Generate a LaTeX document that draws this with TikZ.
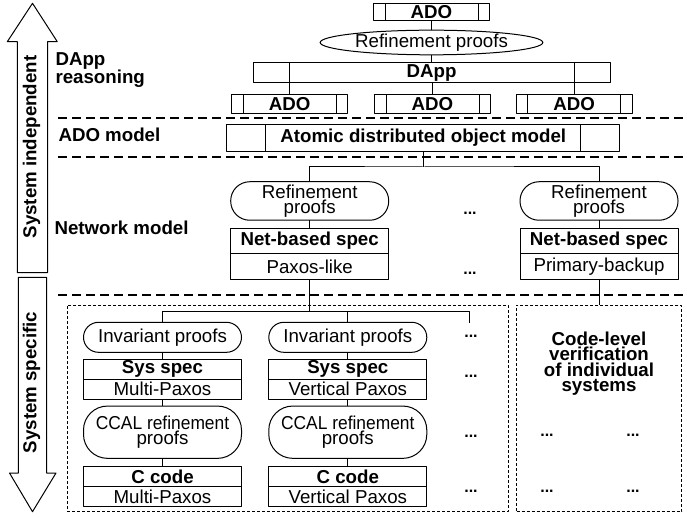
\documentclass[tikz,border=0pt]{standalone}
\usepackage{fontspec}
\setmainfont{Liberation Sans}
\newfontfamily\condfont[FakeStretch=0.93]{Liberation Sans}
\newcommand\figfont{\fontsize{18.7}{15.5}\selectfont}
\usetikzlibrary{shapes.geometric}
\begin{document}
\begin{tikzpicture}[x=1pt,y=-1pt,line join=round,line width=1pt,font=\figfont,
  box/.style={draw,inner sep=0pt,outer sep=0pt},
  bold/.style={font=\figfont\bfseries},
  procbox/.style={box,bold,path picture={\draw ([xshift=#1]path picture bounding box.north west)--([xshift=#1]path picture bounding box.south west) ([xshift=-#1]path picture bounding box.north east)--([xshift=-#1]path picture bounding box.south east);}},
  adobox/.style={procbox=11.5pt,minimum width=116pt,minimum height=19pt},
  proofbox/.style={box,rounded corners=#1,align=center,minimum width=158pt},
  spechead/.style={box,bold,minimum width=158pt},
  speclow/.style={box,minimum width=158pt},
  layerlabel/.style={bold,anchor=west,align=left,inner sep=0pt},
  layersep/.style={dash pattern=on 9pt off 5pt,line width=2pt},
  sysframe/.style={box,dash pattern=on 3pt off 2pt,line width=.8pt},
  moredots/.style={font=\fontsize{16}{16}\selectfont\bfseries,inner sep=0pt},
  bigarrow/.style={draw,line width=1pt}]
\useasboundingbox (0,0) rectangle (687,518);
% left arrows
\draw[bigarrow] (32.5,3.3)--(57.3,41.7)--(47.5,41.7)--(47.5,272.7)--(17.3,272.7)--(17.3,41.7)--(7.3,41.7)--cycle;
\draw[bigarrow] (18.3,277.3)--(46.7,277.3)--(46.7,473)--(56,473)--(32.5,511.7)--(9.5,473)--(18.3,473)--cycle;
\node[bold,rotate=90] (indep) at (31.5,147) {System independent};
\node[bold,rotate=90] (specific) at (31.5,382.5) {System specific};
% layer names and separators
\node[layerlabel] (dappl) at (55,70) {DApp\\reasoning};
\node[layerlabel] (adol) at (58,135) {ADO model};
\node[layerlabel] (netl) at (54,228) {Network model};
\draw[layersep] (58,118)--(687,118) (58,157.5)--(687,157.5) (58,295.3)--(687,295.3);
% DApp reasoning
\node[adobox,minimum height=17pt] (ado0) at (431.5,11.7) {ADO};
\node[draw,ellipse,inner sep=0pt,minimum width=222.7pt,minimum height=21pt] (rp0) at (431.5,42.5) {Refinement proofs};
\node[procbox=36pt,minimum width=357pt,minimum height=20pt] (dapp) at (431.5,73) {DApp};
\node[adobox] (ado1) at (289.7,103.8) {ADO};
\node[adobox] (ado2) at (432.5,103.8) {ADO};
\node[adobox] (ado3) at (574.2,103.8) {ADO};
\draw (ado0)--(rp0)--(dapp);
\foreach \i in {1,2,3} \draw (ado\i.north)--(ado\i.north |- dapp.south);
% ADO model
\node[procbox=39pt,minimum width=393.3pt,minimum height=27pt] (adom) at (423.3,138) {Atomic distributed object model};
% network model
\coordinate (split1) at (423.3,167);
\node[proofbox=19pt,minimum height=38.5pt] (rp1) at (309.7,201) {Refinement\\proofs};
\node[proofbox=19pt,minimum height=38.5pt] (rp2) at (599,201) {Refinement\\proofs};
\node[spechead,minimum height=25pt] (net1) at (309.7,241) {Net-based spec};
\node[speclow,minimum height=26pt] (netl1) at (309.7,266.5) {Paxos-like};
\node[spechead,minimum height=25pt] (net2) at (599,241) {Net-based spec};
\node[speclow,minimum height=26pt] (netl2) at (599,266.5) {Primary-backup};
\node[moredots] (nd1) at (470,213) {...};
\node[moredots] (nd2) at (470,273) {...};
\draw (adom)--(split1);
\draw (rp1.north) |- (split1) -| (rp2.north);
\draw (rp1)--(net1) (rp2)--(net2);
% system specific
\node[sysframe,minimum width=441pt,minimum height=206.7pt] (sysbox) at (287.8,408.4) {};
\node[sysframe,minimum width=165pt,minimum height=206.7pt] (codebox) at (599.2,408.4) {};
\coordinate (split2) at (309.7,311.7);
\coordinate (more) at (469.3,323);
\foreach \c/\x/\sys in {1/162.5/Multi-Paxos,2/347.8/Vertical Paxos}{
  \node[proofbox=15pt,minimum height=30pt] (inv\c) at (\x,337.3) {Invariant proofs};
  \node[spechead,minimum height=20.3pt] (sys\c) at (\x,369.2) {Sys spec};
  \node[speclow,minimum height=20pt] (sysl\c) at (\x,389.3) {\sys};
  \node[proofbox=24pt,minimum height=52.3pt] (ccal\c) at (\x,432.2) {{\condfont CCAL refinement}\\proofs};
  \node[spechead,minimum height=20pt] (code\c) at (\x,476.7) {C code};
  \node[speclow,minimum height=20pt] (codel\c) at (\x,496.7) {\sys};
  \draw (inv\c)--(sys\c) (sysl\c)--(ccal\c)--(code\c);
}
\draw (netl1)--(split2);
\draw (inv1.north) |- (split2) -| (more);
\draw (inv2.north)--(inv2.north |- split2);
\draw (netl2)--(netl2 |- codebox.north);
\foreach \y [count=\k] in {336.7,376,436,491.7} \node[moredots] (sd\k) at (471,\y) {...};
\node[bold,align=center,inner sep=0pt] (cltext) at (599,363.5) {Code-level\\verification\\of individual\\systems};
\node[moredots] (cd1) at (547,435) {...};
\node[moredots] (cd2) at (633,435) {...};
\node[moredots] (cd3) at (547,491) {...};
\node[moredots] (cd4) at (633,491) {...};
\end{tikzpicture}
\end{document}
